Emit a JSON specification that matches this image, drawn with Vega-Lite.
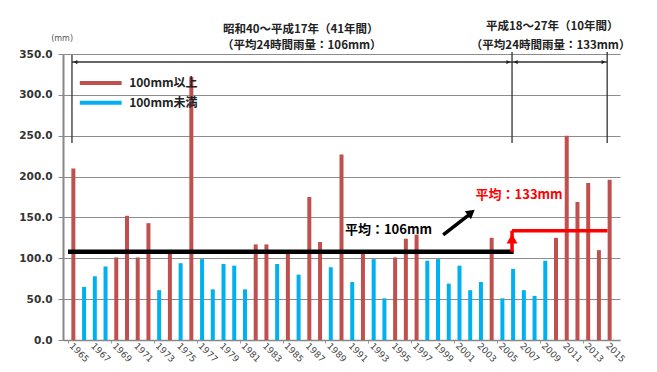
{
  "$schema": "https://vega.github.io/schema/vega-lite/v6.json",
  "autosize": "none",
  "width": 557,
  "height": 286,
  "padding": {"left": 63, "top": 54, "right": 37, "bottom": 32},
  "background": "white",
  "config": {
    "view": {"stroke": null},
    "font": "Noto Sans CJK JP"
  },
  "datasets": {
    "rain": [
      {"year": 1965, "mm": 210, "class": "100mm以上"},
      {"year": 1966, "mm": 65, "class": "100mm未満"},
      {"year": 1967, "mm": 78, "class": "100mm未満"},
      {"year": 1968, "mm": 90, "class": "100mm未満"},
      {"year": 1969, "mm": 101, "class": "100mm以上"},
      {"year": 1970, "mm": 152, "class": "100mm以上"},
      {"year": 1971, "mm": 101, "class": "100mm以上"},
      {"year": 1972, "mm": 143, "class": "100mm以上"},
      {"year": 1973, "mm": 61, "class": "100mm未満"},
      {"year": 1974, "mm": 106, "class": "100mm以上"},
      {"year": 1975, "mm": 94, "class": "100mm未満"},
      {"year": 1976, "mm": 322, "class": "100mm以上"},
      {"year": 1977, "mm": 99, "class": "100mm未満"},
      {"year": 1978, "mm": 62, "class": "100mm未満"},
      {"year": 1979, "mm": 93, "class": "100mm未満"},
      {"year": 1980, "mm": 91, "class": "100mm未満"},
      {"year": 1981, "mm": 62, "class": "100mm未満"},
      {"year": 1982, "mm": 117, "class": "100mm以上"},
      {"year": 1983, "mm": 117, "class": "100mm以上"},
      {"year": 1984, "mm": 93, "class": "100mm未満"},
      {"year": 1985, "mm": 107, "class": "100mm以上"},
      {"year": 1986, "mm": 80, "class": "100mm未満"},
      {"year": 1987, "mm": 175, "class": "100mm以上"},
      {"year": 1988, "mm": 120, "class": "100mm以上"},
      {"year": 1989, "mm": 89, "class": "100mm未満"},
      {"year": 1990, "mm": 227, "class": "100mm以上"},
      {"year": 1991, "mm": 71, "class": "100mm未満"},
      {"year": 1992, "mm": 106, "class": "100mm以上"},
      {"year": 1993, "mm": 99, "class": "100mm未満"},
      {"year": 1994, "mm": 51, "class": "100mm未満"},
      {"year": 1995, "mm": 101, "class": "100mm以上"},
      {"year": 1996, "mm": 124, "class": "100mm以上"},
      {"year": 1997, "mm": 129, "class": "100mm以上"},
      {"year": 1998, "mm": 97, "class": "100mm未満"},
      {"year": 1999, "mm": 99, "class": "100mm未満"},
      {"year": 2000, "mm": 69, "class": "100mm未満"},
      {"year": 2001, "mm": 91, "class": "100mm未満"},
      {"year": 2002, "mm": 61, "class": "100mm未満"},
      {"year": 2003, "mm": 71, "class": "100mm未満"},
      {"year": 2004, "mm": 125, "class": "100mm以上"},
      {"year": 2005, "mm": 51, "class": "100mm未満"},
      {"year": 2006, "mm": 87, "class": "100mm未満"},
      {"year": 2007, "mm": 61, "class": "100mm未満"},
      {"year": 2008, "mm": 54, "class": "100mm未満"},
      {"year": 2009, "mm": 97, "class": "100mm未満"},
      {"year": 2010, "mm": 125, "class": "100mm以上"},
      {"year": 2011, "mm": 250, "class": "100mm以上"},
      {"year": 2012, "mm": 169, "class": "100mm以上"},
      {"year": 2013, "mm": 192, "class": "100mm以上"},
      {"year": 2014, "mm": 110, "class": "100mm以上"},
      {"year": 2015, "mm": 196, "class": "100mm以上"}
    ]
  },
  "layer": [
    {
      "data": {"name": "rain"},
      "mark": {"type": "bar", "width": 4},
      "encoding": {
        "x": {
          "field": "year", "type": "quantitative",
          "scale": {"domain": [1964.5, 2015.5], "nice": false, "zero": false},
          "axis": {
            "title": null,
            "values": [1964.5,1965.5,1966.5,1967.5,1968.5,1969.5,1970.5,1971.5,1972.5,1973.5,1974.5,1975.5,1976.5,1977.5,1978.5,1979.5,1980.5,1981.5,1982.5,1983.5,1984.5,1985.5,1986.5,1987.5,1988.5,1989.5,1990.5,1991.5,1992.5,1993.5,1994.5,1995.5,1996.5,1997.5,1998.5,1999.5,2000.5,2001.5,2002.5,2003.5,2004.5,2005.5,2006.5,2007.5,2008.5,2009.5,2010.5,2011.5,2012.5,2013.5,2014.5,2015.5],
            "labels": false,
            "tickSize": 3,
            "tickColor": "#999999",
            "domainColor": "#888888",
            "domainWidth": 1.5,
            "grid": false
          }
        },
        "y": {
          "field": "mm", "type": "quantitative",
          "scale": {"domain": [0, 350], "nice": false},
          "axis": {
            "title": null,
            "values": [0, 50, 100, 150, 200, 250, 300, 350],
            "format": ".1f",
            "labelFont": "DejaVu Sans",
            "labelFontSize": 10.5,
            "labelFontWeight": "bold",
            "labelColor": "#333333",
            "labelPadding": 6,
            "tickSize": 5,
            "tickColor": "#888888",
            "domainColor": "#888888",
            "domainWidth": 2,
            "grid": true,
            "gridColor": "#8c8c8c",
            "gridWidth": 1
          }
        },
        "color": {
          "field": "class", "type": "nominal",
          "scale": {"domain": ["100mm以上", "100mm未満"], "range": ["#C0504D", "#00B0F0"]},
          "legend": null
        }
      }
    },
    {
      "data": {"name": "rain"},
      "transform": [{"filter": "datum.year % 2 == 1"}],
      "mark": {"type": "text", "angle": 45, "align": "left", "baseline": "middle", "font": "DejaVu Sans", "fontSize": 9, "color": "#444444", "dx": -3},
      "encoding": {
        "x": {"field": "year", "type": "quantitative"},
        "y": {"datum": -8},
        "text": {"field": "year", "type": "quantitative", "format": "d"}
      }
    },
    {
      "data": {"values": [
        {"x": 1964.87, "x2": 2014.77, "y": 340.2, "y2": 340.2},
        {"x": 1964.87, "x2": 1964.87, "y": 348.8, "y2": 241},
        {"x": 2005.9, "x2": 2005.9, "y": 352.5, "y2": 241},
        {"x": 2014.77, "x2": 2014.77, "y": 352.5, "y2": 241}
      ]},
      "mark": {"type": "rule", "color": "#333333", "strokeWidth": 1.3},
      "encoding": {
        "x": {"field": "x", "type": "quantitative"},
        "x2": {"field": "x2"},
        "y": {"field": "y", "type": "quantitative"},
        "y2": {"field": "y2"}
      }
    },
    {
      "data": {"values": [
        {"x": 1965.2, "y": 340.2},
        {"x": 2006.25, "y": 340.2}
      ]},
      "mark": {"type": "point", "shape": "triangle-left", "size": 18, "filled": true, "color": "#222222", "opacity": 1},
      "encoding": {
        "x": {"field": "x", "type": "quantitative"},
        "y": {"field": "y", "type": "quantitative"}
      }
    },
    {
      "data": {"values": [
        {"x": 2005.55, "y": 340.2},
        {"x": 2014.42, "y": 340.2}
      ]},
      "mark": {"type": "point", "shape": "triangle-right", "size": 18, "filled": true, "color": "#222222", "opacity": 1},
      "encoding": {
        "x": {"field": "x", "type": "quantitative"},
        "y": {"field": "y", "type": "quantitative"}
      }
    },
    {
      "data": {"values": [
        {"x": 1964.5, "x2": 2006.05, "y": 108, "y2": 108}
      ]},
      "mark": {"type": "rule", "color": "#000000", "strokeWidth": 4.5},
      "encoding": {
        "x": {"field": "x", "type": "quantitative"},
        "x2": {"field": "x2"},
        "y": {"field": "y", "type": "quantitative"},
        "y2": {"field": "y2"}
      }
    },
    {
      "data": {"values": [
        {"x": 2005.9, "x2": 2014.8, "y": 133.8, "y2": 133.8},
        {"x": 2005.9, "x2": 2005.9, "y": 108, "y2": 133.8}
      ]},
      "mark": {"type": "rule", "color": "#FF0000", "strokeWidth": 3.5},
      "encoding": {
        "x": {"field": "x", "type": "quantitative"},
        "x2": {"field": "x2"},
        "y": {"field": "y", "type": "quantitative"},
        "y2": {"field": "y2"}
      }
    },
    {
      "data": {"values": [{"x": 2005.9, "y": 124}]},
      "mark": {"type": "point", "shape": "triangle-up", "size": 120, "filled": true, "color": "#FF0000", "opacity": 1},
      "encoding": {
        "x": {"field": "x", "type": "quantitative"},
        "y": {"field": "y", "type": "quantitative"}
      }
    },
    {
      "data": {"values": [{"x": 1999.48, "x2": 2002.0, "y": 128.5, "y2": 154.5}]},
      "mark": {"type": "rule", "color": "#000000", "strokeWidth": 3.5},
      "encoding": {
        "x": {"field": "x", "type": "quantitative"},
        "x2": {"field": "x2"},
        "y": {"field": "y", "type": "quantitative"},
        "y2": {"field": "y2"}
      }
    },
    {
      "data": {"values": [{"x": 2002.1, "y": 156}]},
      "mark": {"type": "point", "shape": "triangle-up", "size": 100, "filled": true, "color": "#000000", "opacity": 1, "angle": 52},
      "encoding": {
        "x": {"field": "x", "type": "quantitative"},
        "y": {"field": "y", "type": "quantitative"}
      }
    },
    {
      "data": {"values": [{"x": 1965.6, "x2": 1969.5, "y": 314.6, "y2": 314.6}]},
      "mark": {"type": "rule", "color": "#C0504D", "strokeWidth": 4},
      "encoding": {
        "x": {"field": "x", "type": "quantitative"},
        "x2": {"field": "x2"},
        "y": {"field": "y", "type": "quantitative"},
        "y2": {"field": "y2"}
      }
    },
    {
      "data": {"values": [{"x": 1965.6, "x2": 1969.5, "y": 290.2, "y2": 290.2}]},
      "mark": {"type": "rule", "color": "#00B0F0", "strokeWidth": 4},
      "encoding": {
        "x": {"field": "x", "type": "quantitative"},
        "x2": {"field": "x2"},
        "y": {"field": "y", "type": "quantitative"},
        "y2": {"field": "y2"}
      }
    },
    {
      "data": {"values": [
        {"x": 1970.2, "y": 314.6, "label": "100mm以上"},
        {"x": 1970.2, "y": 290.2, "label": "100mm未満"}
      ]},
      "mark": {"type": "text", "align": "left", "baseline": "middle", "fontSize": 12, "fontWeight": "bold", "color": "#222222"},
      "encoding": {
        "x": {"field": "x", "type": "quantitative"},
        "y": {"field": "y", "type": "quantitative"},
        "text": {"field": "label"}
      }
    },
    {
      "data": {"values": [
        {"x": 1986.2, "y": 378.8, "label": "昭和40～平成17年（41年間）"},
        {"x": 1986.3, "y": 359.6, "label": "（平均24時間雨量：106mm）"},
        {"x": 2009.65, "y": 382.5, "label": "平成18～27年（10年間）"},
        {"x": 2009.5, "y": 359.6, "label": "（平均24時間雨量：133mm）"}
      ]},
      "mark": {"type": "text", "align": "center", "baseline": "middle", "fontSize": 11.5, "fontWeight": "bold", "color": "#222222"},
      "encoding": {
        "x": {"field": "x", "type": "quantitative"},
        "y": {"field": "y", "type": "quantitative"},
        "text": {"field": "label"}
      }
    },
    {
      "data": {"values": [{"x": 1963.95, "y": 368.4, "label": "(mm)"}]},
      "mark": {"type": "text", "align": "center", "baseline": "middle", "fontSize": 8, "color": "#555555", "font": "DejaVu Sans"},
      "encoding": {
        "x": {"field": "x", "type": "quantitative"},
        "y": {"field": "y", "type": "quantitative"},
        "text": {"field": "label"}
      }
    },
    {
      "data": {"values": [{"x": 1990.32, "y": 134.6, "label": "平均：106mm"}]},
      "mark": {"type": "text", "align": "left", "baseline": "middle", "fontSize": 13, "fontWeight": "bold", "color": "#000000"},
      "encoding": {
        "x": {"field": "x", "type": "quantitative"},
        "y": {"field": "y", "type": "quantitative"},
        "text": {"field": "label"}
      }
    },
    {
      "data": {"values": [{"x": 2002.5, "y": 177.5, "label": "平均：133mm"}]},
      "mark": {"type": "text", "align": "left", "baseline": "middle", "fontSize": 13, "fontWeight": "bold", "color": "#FF0000"},
      "encoding": {
        "x": {"field": "x", "type": "quantitative"},
        "y": {"field": "y", "type": "quantitative"},
        "text": {"field": "label"}
      }
    }
  ]
}
